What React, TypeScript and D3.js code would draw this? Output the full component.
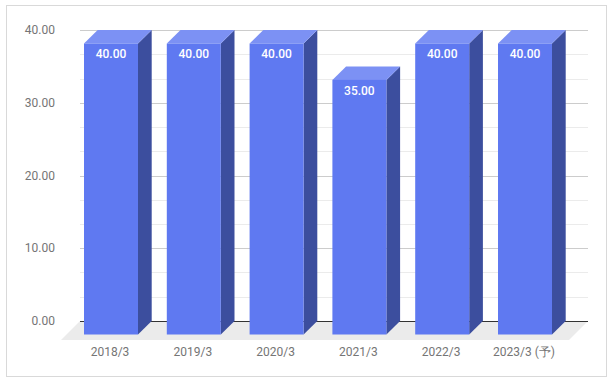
import React from "react";
import * as d3 from "d3";

const categories = ["2018/3", "2019/3", "2020/3", "2021/3", "2022/3", "2023/3 (予)"];
const values = [40, 40, 40, 35, 40, 40];
const yTicks = [0, 10, 20, 30, 40];
const minorTicks = [3.333, 6.667, 13.333, 16.667, 23.333, 26.667, 33.333, 36.667];

const W = 613;
const H = 383;
const DX = 13.7;
const DY = 13.5;
const BAR_W = 54;

export default function App() {
  const y = d3.scaleLinear().domain([0, 40]).range([321, 30]);
  const x = d3.scalePoint<string>().domain(categories).range([111, 525]);
  const backL = 80;
  const backR = 588;
  const fmt = d3.format(".2f");
  const font = "Roboto, Arial, sans-serif";

  return (
    <svg width={W} height={H} style={{ position: "absolute", left: 0, top: 0 }}>
      <rect x={0} y={0} width={W} height={H} fill="#fff" />
      <rect x={6.5} y={5.5} width={600} height={371} fill="#fff" stroke="#d9d9d9" strokeWidth={1} />
      {/* floor */}
      <polygon
        points={`${backL},${y(0)} ${backR},${y(0)} ${backR - 19},${y(0) + 19} ${backL - 19},${y(0) + 19}`}
        fill="#ebebeb"
      />
      {/* gridlines */}
      {minorTicks.map((t) => (
        <line key={"m" + t} x1={backL} x2={backR} y1={Math.round(y(t)) + 0.5} y2={Math.round(y(t)) + 0.5} stroke="#ebebeb" />
      ))}
      {yTicks.filter((t) => t !== 0).map((t) => (
        <line key={"g" + t} x1={backL} x2={backR} y1={Math.round(y(t)) + 0.5} y2={Math.round(y(t)) + 0.5} stroke="#cccccc" />
      ))}
      <line x1={backL} x2={backR} y1={Math.round(y(0)) + 0.5} y2={Math.round(y(0)) + 0.5} stroke="#333333" />
      {/* y labels */}
      {yTicks.map((t) => (
        <text key={"y" + t} x={55} y={y(t)} dy="0.35em" textAnchor="end" fontFamily={font} fontSize={12} fill="#757575">
          {fmt(t)}
        </text>
      ))}
      {/* bars */}
      {categories.map((c, i) => {
        const cx = x(c)!;
        const l = cx - BAR_W / 2;
        const r = cx + BAR_W / 2;
        const top = y(values[i]) + DY;
        const bot = y(0) + DY;
        return (
          <g key={c}>
            <polygon points={`${r},${top} ${r + DX},${top - DY} ${r + DX},${bot - DY} ${r},${bot}`} fill="#3c4e9e" />
            <polygon points={`${l},${top} ${l + DX},${top - DY} ${r + DX},${top - DY} ${r},${top}`} fill="#7c91f4" />
            <rect x={l} y={top} width={BAR_W} height={bot - top} fill="#5f79f1" />
            <text x={cx} y={top + 10.5} dy="0.35em" textAnchor="middle" fontFamily={font} fontSize={12} fontWeight={500} fill="#ffffff">
              {fmt(values[i])}
            </text>
            <text x={cx - 1} y={352} dy="0.35em" textAnchor="middle" fontFamily={font} fontSize={12} fill="#757575">
              {c}
            </text>
          </g>
        );
      })}
    </svg>
  );
}
